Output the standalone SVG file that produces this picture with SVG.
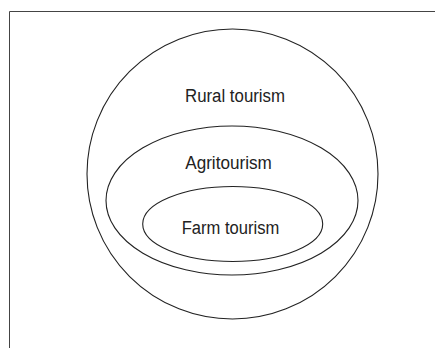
<svg xmlns="http://www.w3.org/2000/svg" width="435" height="348" viewBox="0 0 435 348">
<style>
.s{fill:none;stroke:#222;stroke-width:1.1}
.t{font-family:"Liberation Sans Narrow","Liberation Sans",sans-serif;font-size:18px;fill:#222;text-anchor:middle}
</style>
<rect width="435" height="348" fill="#fff"/>
<path d="M9.5,348 V11.5 H435" fill="none" stroke="#444" stroke-width="1"/>
<g id="rural">
<ellipse class="s" cx="232.5" cy="174" rx="145.5" ry="145"/>
<text class="t" x="235" y="102" textLength="100" lengthAdjust="spacingAndGlyphs">Rural tourism</text>
</g>
<g id="agri">
<ellipse class="s" cx="232" cy="200.5" rx="126" ry="74.5"/>
<text class="t" x="228.5" y="169" textLength="86.5" lengthAdjust="spacingAndGlyphs">Agritourism</text>
</g>
<g id="farm">
<ellipse class="s" cx="232.7" cy="224" rx="90" ry="37.5"/>
<text class="t" x="230.5" y="233.5" textLength="97.5" lengthAdjust="spacingAndGlyphs">Farm tourism</text>
</g>
<g id="connectors"/>
</svg>
